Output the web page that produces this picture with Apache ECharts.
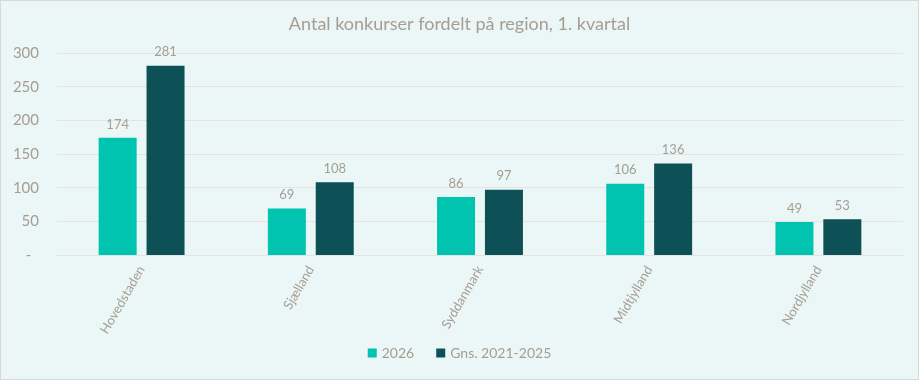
<!DOCTYPE html>
<html><head><meta charset="utf-8">
<script src="https://cdn.jsdelivr.net/npm/echarts@6/dist/echarts.min.js"></script>
<style>html,body{margin:0;padding:0;background:#fff}#c{width:917px;height:378px;border:1px solid #d9d9d9;background:#eaf7f6}</style>
</head><body><div id="c"></div>
<script>
const categories = ['Hovedstaden','Sjælland','Syddanmark','Midtjylland','Nordjylland'];
const series2026 = [174, 69, 86, 106, 49];
const seriesAvg = [281, 108, 97, 136, 53];
const seriesNames = ['2026', 'Gns. 2021-2025'];
const yTicks = {min: 0, max: 300, interval: 50};

const txt = '#a69d92';
const font = 'Lato, "Open Sans", sans-serif';
const chart = echarts.init(document.getElementById('c'), null, {renderer: 'canvas'});
chart.setOption({
  backgroundColor: '#eaf7f6',
  animation: false,
  textStyle: {fontFamily: font},
  title: {text: 'Antal konkurser fordelt på region, 1. kvartal', left: 'center', top: 9,
    textStyle: {color: txt, fontSize: 18, fontWeight: 'normal', fontFamily: font}},
  legend: {bottom: 14, left: 'center', itemWidth: 9, itemHeight: 9, itemGap: 22,
    icon: 'rect', textStyle: {color: txt, fontSize: 14, fontFamily: font}},
  grid: {left: 56, right: 15, top: 52, bottom: 124, containLabel: false},
  xAxis: {type: 'category', data: categories,
    axisLine: {lineStyle: {color: '#e3e3e3'}}, axisTick: {show: false},
    axisLabel: {rotate: 60, color: txt, fontSize: 13, margin: 12, fontFamily: font}},
  yAxis: {type: 'value', min: yTicks.min, max: yTicks.max, interval: yTicks.interval,
    axisLine: {show: false}, axisTick: {show: false},
    splitLine: {lineStyle: {color: '#e6e3e1', width: 1}},
    axisLabel: {color: txt, fontSize: 15, margin: 18, fontFamily: font,
      formatter: v => v === 0 ? '-  ' : String(v)}},
  series: [
    {name: seriesNames[0], type: 'bar', data: series2026, barWidth: 38, barGap: '26%',
      itemStyle: {color: '#00c4b0'},
      label: {show: true, position: 'top', distance: 7, color: txt, fontSize: 13, fontFamily: font}},
    {name: seriesNames[1], type: 'bar', data: seriesAvg, barWidth: 38, barGap: '26%',
      itemStyle: {color: '#0d5055'},
      label: {show: true, position: 'top', distance: 7, color: txt, fontSize: 13, fontFamily: font}}
  ]
});
</script></body></html>
